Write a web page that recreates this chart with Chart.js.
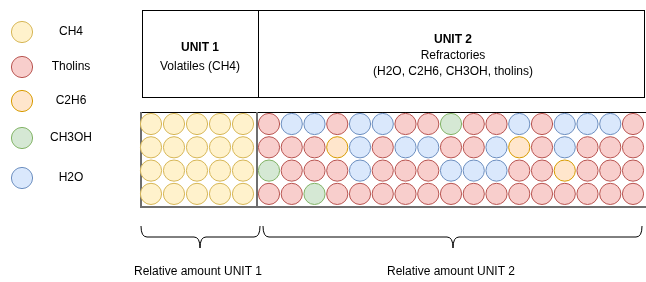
<!DOCTYPE html>
<html>
<head>
<meta charset="utf-8">
<script src="https://cdn.jsdelivr.net/npm/chart.js@4/dist/chart.umd.min.js"></script>
<style>
  html, body { margin: 0; padding: 0; background: #fff; }
  #wrap { width: 646px; height: 282px; position: relative; }
</style>
</head>
<body>
<div id="wrap"><canvas id="c"></canvas></div>
<script>
// ---- Data ----
const species = ['CH4', 'Tholins', 'C2H6', 'CH3OH', 'H2O'];
const codes = ['M', 'T', 'E', 'O', 'W'];
const fillColors = ['#fff2cc', '#f8cecc', '#ffe6cc', '#d5e8d4', '#dae8fc'];
const strokeColors = ['#d6b656', '#b85450', '#d79b00', '#82b366', '#6c8ebf'];

const unit1Rows = [
  'MMMMM',
  'MMMMM',
  'MMMMM',
  'MMMMM'
];
const unit2Rows = [
  'TWWTWWTTOTTWTWWWT',
  'TTTEWTWWTTWETWTTT',
  'OTTTWTTTWWWTTETTT',
  'TTOTTTTTTTTTTTTTT'
];
const unitTitles = ['UNIT 1', 'UNIT 2'];
const unitSubtitles = [['Volatiles (CH4)'], ['Refractories', '(H2O, C2H6, CH3OH, tholins)']];
const amountLabels = ['Relative amount UNIT 1', 'Relative amount UNIT 2'];

// ---- Layout (scale units = px) ----
const L = {
  u1x0: 151, u1dx: 23,
  u2x0: 269, u2dx: 22.75,
  y0: 124, dy: 23.3,
  r: 10.6,
  legX: 22, legY: [32, 67, 101, 138, 178], legTextX: 71
};

function buildPoints(code) {
  const pts = [];
  unit1Rows.forEach((row, r) => {
    [...row].forEach((c, i) => { if (c === code) pts.push({ x: L.u1x0 + i * L.u1dx, y: L.y0 + r * L.dy }); });
  });
  unit2Rows.forEach((row, r) => {
    [...row].forEach((c, i) => { if (c === code) pts.push({ x: L.u2x0 + i * L.u2dx, y: L.y0 + r * L.dy }); });
  });
  return pts;
}

const datasets = species.map((name, k) => ({
  label: name,
  data: buildPoints(codes[k]).concat([{ x: L.legX, y: L.legY[k] }]),
  pointRadius: L.r,
  pointHoverRadius: L.r,
  pointBackgroundColor: fillColors[k],
  pointBorderColor: strokeColors[k],
  pointBorderWidth: 1,
  showLine: false,
  clip: false
}));

const FONT = '"Liberation Sans", Arial, Helvetica, sans-serif';

const decor = {
  id: 'decor',
  beforeDatasetsDraw(chart) {
    const { ctx, scales: { x, y } } = chart;
    const X = v => x.getPixelForValue(v), Y = v => y.getPixelForValue(v);
    ctx.save();
    // header box
    ctx.strokeStyle = '#000';
    ctx.lineWidth = 1;
    ctx.strokeRect(X(142) + 0.5, Y(10) + 0.5, X(645) - X(142) - 1, Y(97) - Y(10));
    ctx.beginPath();
    ctx.moveTo(X(258) + 0.5, Y(10)); ctx.lineTo(X(258) + 0.5, Y(97));
    ctx.stroke();
    // circle box
    ctx.beginPath();
    ctx.moveTo(X(140), Y(112) + 0.5); ctx.lineTo(X(646), Y(112) + 0.5);
    ctx.stroke();
    ctx.strokeStyle = '#6e6e6e';
    ctx.lineWidth = 2;
    ctx.beginPath();
    ctx.moveTo(X(141), Y(112)); ctx.lineTo(X(141), Y(207)); ctx.lineTo(X(646), Y(207));
    ctx.moveTo(X(257), Y(112)); ctx.lineTo(X(257), Y(207));
    ctx.stroke();
    ctx.restore();
  },
  afterDatasetsDraw(chart) {
    const { ctx, scales: { x, y } } = chart;
    const X = v => x.getPixelForValue(v), Y = v => y.getPixelForValue(v);
    ctx.save();
    ctx.fillStyle = '#000';
    ctx.textAlign = 'center';
    ctx.textBaseline = 'middle';
    // header texts
    const cx = [200, 453];
    const titleY = [48, 40];
    const subDy = [19, 16];
    unitTitles.forEach((t, i) => {
      ctx.font = 'bold 12px ' + FONT;
      ctx.fillText(t, X(cx[i]), Y(titleY[i]));
      ctx.font = '12px ' + FONT;
      unitSubtitles[i].forEach((s, j) => ctx.fillText(s, X(cx[i]), Y(titleY[i] + subDy[i] * (j + 1))));
    });
    // legend labels
    ctx.font = '12px ' + FONT;
    species.forEach((s, k) => ctx.fillText(s, X(L.legTextX), Y(L.legY[k])));
    // braces
    ctx.strokeStyle = '#000';
    ctx.lineWidth = 1;
    const braces = [[141, 200, 260], [263, 453, 642]];
    const top = 226, mid = 237, tip = 248, r = 6;
    braces.forEach(([a, m, b]) => {
      ctx.beginPath();
      ctx.moveTo(X(a), Y(top));
      ctx.quadraticCurveTo(X(a), Y(mid), X(a + r), Y(mid));
      ctx.lineTo(X(m - r), Y(mid));
      ctx.quadraticCurveTo(X(m), Y(mid), X(m), Y(tip));
      ctx.moveTo(X(m), Y(tip));
      ctx.quadraticCurveTo(X(m), Y(mid), X(m + r), Y(mid));
      ctx.lineTo(X(b - r), Y(mid));
      ctx.quadraticCurveTo(X(b), Y(mid), X(b), Y(top));
      ctx.stroke();
    });
    amountLabels.forEach((t, i) => ctx.fillText(t, X(braces[i][1] - 2), Y(272)));
    ctx.restore();
  }
};

new Chart(document.getElementById('c'), {
  type: 'scatter',
  data: { datasets },
  options: {
    responsive: true,
    maintainAspectRatio: false,
    animation: false,
    layout: { padding: 0, autoPadding: false },
    plugins: { legend: { display: false }, tooltip: { enabled: false } },
    scales: {
      x: { type: 'linear', min: 0, max: 646, display: false },
      y: { type: 'linear', min: 0, max: 282, reverse: true, display: false }
    },
    elements: { point: { hitRadius: 0 } }
  },
  plugins: [decor]
});
</script>
</body>
</html>
